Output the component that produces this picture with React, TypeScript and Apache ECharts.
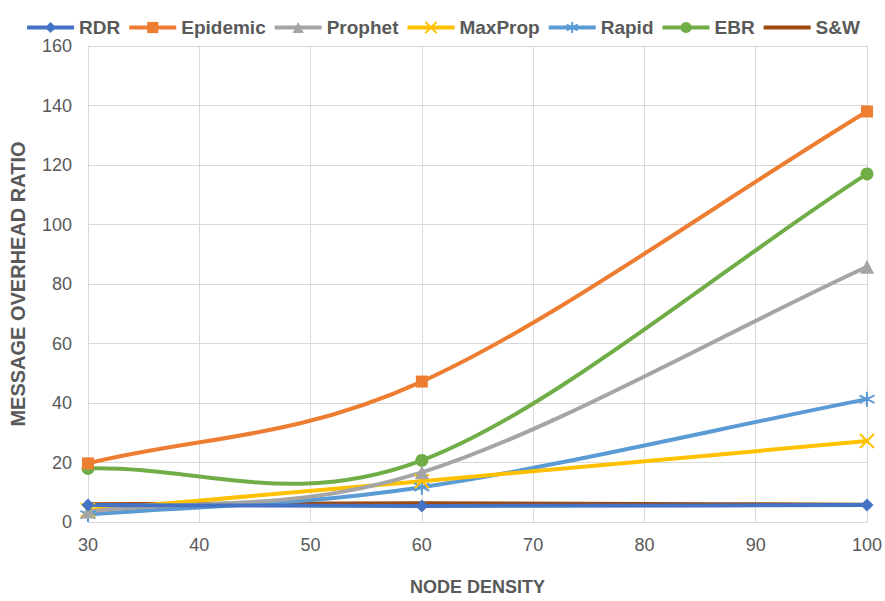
import React, { useEffect, useRef } from "react";
import * as echarts from "echarts";

const xValues = [30, 60, 100];
const seriesNames = ["RDR", "Epidemic", "Prophet", "MaxProp", "Rapid", "EBR", "S&W"];
const rdr = [5.7, 5.4, 5.7];
const epidemic = [19.7, 47.2, 138.0];
const prophet = [3.5, 16.7, 85.8];
const maxprop = [4.0, 13.7, 27.2];
const rapid = [2.5, 11.7, 41.3];
const ebr = [18.0, 20.7, 117.0];
const sw = [6.0, 6.3, 5.8];

const colors = ["#4472C4", "#ED7D31", "#A5A5A5", "#FFC000", "#5B9BD5", "#70AD47", "#9E480E"];
const xSym = "path://M0,0L10,10M10,0L0,10";
const starSym = "path://M5,0L5,10M0,2.5L10,7.5M10,2.5L0,7.5";
const symbols = ["diamond", "rect", "triangle", xSym, starSym, "circle", "none"];
const symbolSizes = [13, 12, 14, 14, 15, 13, 0];
const allData = [rdr, epidemic, prophet, maxprop, rapid, ebr, sw];

export default function App() {
  const ref = useRef<HTMLDivElement>(null);
  useEffect(() => {
    if (!ref.current) return;
    const chart = echarts.init(ref.current, undefined, { renderer: "svg" });
    const textColor = "#595959";

    const markerSeries = seriesNames.map((name, i) => {
      const isStroke = i === 3 || i === 4;
      return {
        name,
        type: "line",
        data: xValues.map((x, j) => [x, allData[i][j]]),
        symbol: symbols[i],
        symbolSize: symbolSizes[i],
        showSymbol: symbols[i] !== "none",
        lineStyle: { color: colors[i], width: 0, opacity: 0 },
        itemStyle: isStroke
          ? { color: "rgba(0,0,0,0)", borderColor: colors[i], borderWidth: 2 }
          : { color: colors[i], borderColor: colors[i], borderWidth: 0 },
        z: 20 - i,
      };
    });

    const curveSeries = seriesNames.map((name, i) => {
      const vals = allData[i];
      return {
        name,
        type: "custom",
        coordinateSystem: "cartesian2d",
        data: xValues.map((x, j) => [x, vals[j]]),
        encode: { x: 0, y: 1 },
        z: 10 - i,
        silent: true,
        renderItem: (params: any, api: any) => {
          const k = params.dataIndex;
          const n = xValues.length;
          if (k >= n - 1) return null;
          const pts = xValues.map((x, j) => api.coord([x, vals[j]]));
          const get = (j: number) => {
            if (j < 0) return [2 * pts[0][0] - pts[1][0], 2 * pts[0][1] - pts[1][1]];
            if (j > n - 1) return [2 * pts[n - 1][0] - pts[n - 2][0], 2 * pts[n - 1][1] - pts[n - 2][1]];
            return pts[j];
          };
          const p0 = get(k - 1);
          const p1 = get(k);
          const p2 = get(k + 1);
          const p3 = get(k + 2);
          return {
            type: "bezierCurve",
            shape: {
              x1: p1[0],
              y1: p1[1],
              x2: p2[0],
              y2: p2[1],
              cpx1: p1[0] + (p2[0] - p0[0]) / 6,
              cpy1: p1[1] + (p2[1] - p0[1]) / 6,
              cpx2: p2[0] - (p3[0] - p1[0]) / 6,
              cpy2: p2[1] - (p3[1] - p1[1]) / 6,
            },
            style: { stroke: colors[i], lineWidth: 4, fill: "none", lineCap: "round" },
          };
        },
      };
    });

    chart.setOption({
      animation: false,
      backgroundColor: "#ffffff",
      legend: {
        top: 13,
        left: "center",
        itemWidth: 47,
        itemHeight: 14,
        itemGap: 7,
        textStyle: { fontFamily: "Liberation Sans", fontWeight: "bold", fontSize: 19, color: textColor },
        data: seriesNames.map((name, i) =>
          symbols[i] === "none"
            ? {
                name,
                lineStyle: { color: colors[i], width: 4, opacity: 1 },
                itemStyle: { color: "rgba(0,0,0,0)", opacity: 0, borderWidth: 0 },
              }
            : { name, lineStyle: { color: colors[i], width: 4, opacity: 1 } }
        ),
      },
      grid: { left: 88, right: 18, top: 46, bottom: 77, containLabel: false },
      xAxis: {
        type: "value",
        min: 30,
        max: 100,
        interval: 10,
        name: "NODE DENSITY",
        nameLocation: "middle",
        nameGap: 56,
        nameTextStyle: { fontFamily: "Liberation Sans", fontWeight: "bold", fontSize: 18, color: textColor },
        axisLine: { show: true, lineStyle: { color: "#d9d9d9", width: 1 } },
        axisTick: { show: false },
        splitLine: { show: true, lineStyle: { color: "#d9d9d9", width: 1 } },
        axisLabel: { fontFamily: "Liberation Sans", fontSize: 18, color: textColor, margin: 14 },
      },
      yAxis: {
        type: "value",
        min: 0,
        max: 160,
        interval: 20,
        name: "MESSAGE OVERHEAD RATIO",
        nameLocation: "middle",
        nameRotate: 90,
        nameGap: 60,
        nameTextStyle: { fontFamily: "Liberation Sans", fontWeight: "bold", fontSize: 20, color: textColor },
        axisLine: { show: true, lineStyle: { color: "#d9d9d9", width: 1 } },
        axisTick: { show: false },
        splitLine: { show: true, lineStyle: { color: "#d9d9d9", width: 1 } },
        axisLabel: { fontFamily: "Liberation Sans", fontSize: 18, color: textColor, margin: 16 },
      },
      series: [...markerSeries, ...curveSeries],
    });
    return () => chart.dispose();
  }, []);
  return <div ref={ref} style={{ width: 885, height: 601, position: "absolute", left: 0, top: 0 }} />;
}
